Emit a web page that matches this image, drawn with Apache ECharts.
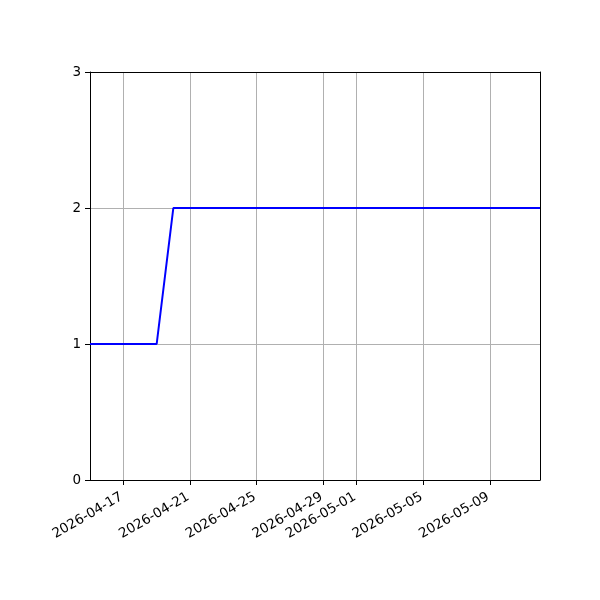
<!DOCTYPE html>
<html>
<head>
<meta charset="utf-8">
<script src="https://cdn.jsdelivr.net/npm/echarts@6/dist/echarts.min.js"></script>
<style>
  html, body { margin: 0; padding: 0; background: #fff; }
  #main { width: 600px; height: 600px; }
</style>
</head>
<body>
<div id="main"></div>
<script>
// daily dates on the x axis
var days = [
    '2026-04-15', '2026-04-16', '2026-04-17', '2026-04-18', '2026-04-19',
    '2026-04-20', '2026-04-21', '2026-04-22', '2026-04-23', '2026-04-24',
    '2026-04-25', '2026-04-26', '2026-04-27', '2026-04-28', '2026-04-29',
    '2026-04-30', '2026-05-01', '2026-05-02', '2026-05-03', '2026-05-04',
    '2026-05-05', '2026-05-06', '2026-05-07', '2026-05-08', '2026-05-09',
    '2026-05-10', '2026-05-11', '2026-05-12'
];
var counts = [
    1, 1, 1, 1, 1,
    2, 2, 2, 2, 2,
    2, 2, 2, 2, 2,
    2, 2, 2, 2, 2,
    2, 2, 2, 2, 2,
    2, 2, 2
];
// dates that get a tick + label
var tickDays = ['2026-04-17', '2026-04-21', '2026-04-25', '2026-04-29', '2026-05-01', '2026-05-05', '2026-05-09'];

var showTick = function(idx, val){
    return tickDays.indexOf(val) >= 0;
};

var myChart = echarts.init(document.getElementById('main'));
var option = {
    animation: false,
    textStyle: { fontFamily: 'DejaVu Sans' },
    grid: { left: 90, right: 60, top: 72, bottom: 120 },
    xAxis: [
        {
            type: 'category',
            data: days,
            boundaryGap: false,
            axisLine: { lineStyle: { color: '#000', width: 1 } },
            axisTick: { show: true, interval: showTick, length: 5, lineStyle: { color: '#000' } },
            axisLabel: { interval: showTick, rotate: 30, color: '#000', fontSize: 13.5, margin: 15, padding: [0, 2, 0, 0] },
            splitLine: { show: true, interval: showTick, lineStyle: { color: '#b0b0b0', width: 1 } },
            z: 3
        },
        {
            // top frame edge
            type: 'category',
            data: days,
            boundaryGap: false,
            position: 'top',
            axisLine: { onZero: false, lineStyle: { color: '#000', width: 1 } },
            axisTick: { show: false },
            axisLabel: { show: false },
            splitLine: { show: false },
            z: 3
        }
    ],
    yAxis: [
        {
            type: 'value',
            min: 0, max: 3, interval: 1,
            axisLine: { show: true, lineStyle: { color: '#000', width: 1 } },
            axisTick: { show: true, length: 5, lineStyle: { color: '#000' } },
            axisLabel: { color: '#000', fontSize: 13.5, margin: 9 },
            splitLine: { show: true, lineStyle: { color: '#b0b0b0', width: 1 } },
            z: 3
        },
        {
            // right frame edge
            type: 'value',
            min: 0, max: 3, interval: 1,
            position: 'right',
            axisLine: { show: true, onZero: false, lineStyle: { color: '#000', width: 1 } },
            axisTick: { show: false },
            axisLabel: { show: false },
            splitLine: { show: false },
            z: 3
        }
    ],
    series: [
        {
            type: 'line',
            data: counts,
            showSymbol: false,
            symbol: 'none',
            lineStyle: { color: '#0000ff', width: 2 },
            z: 5
        }
    ]
};
myChart.setOption(option);
</script>
</body>
</html>
